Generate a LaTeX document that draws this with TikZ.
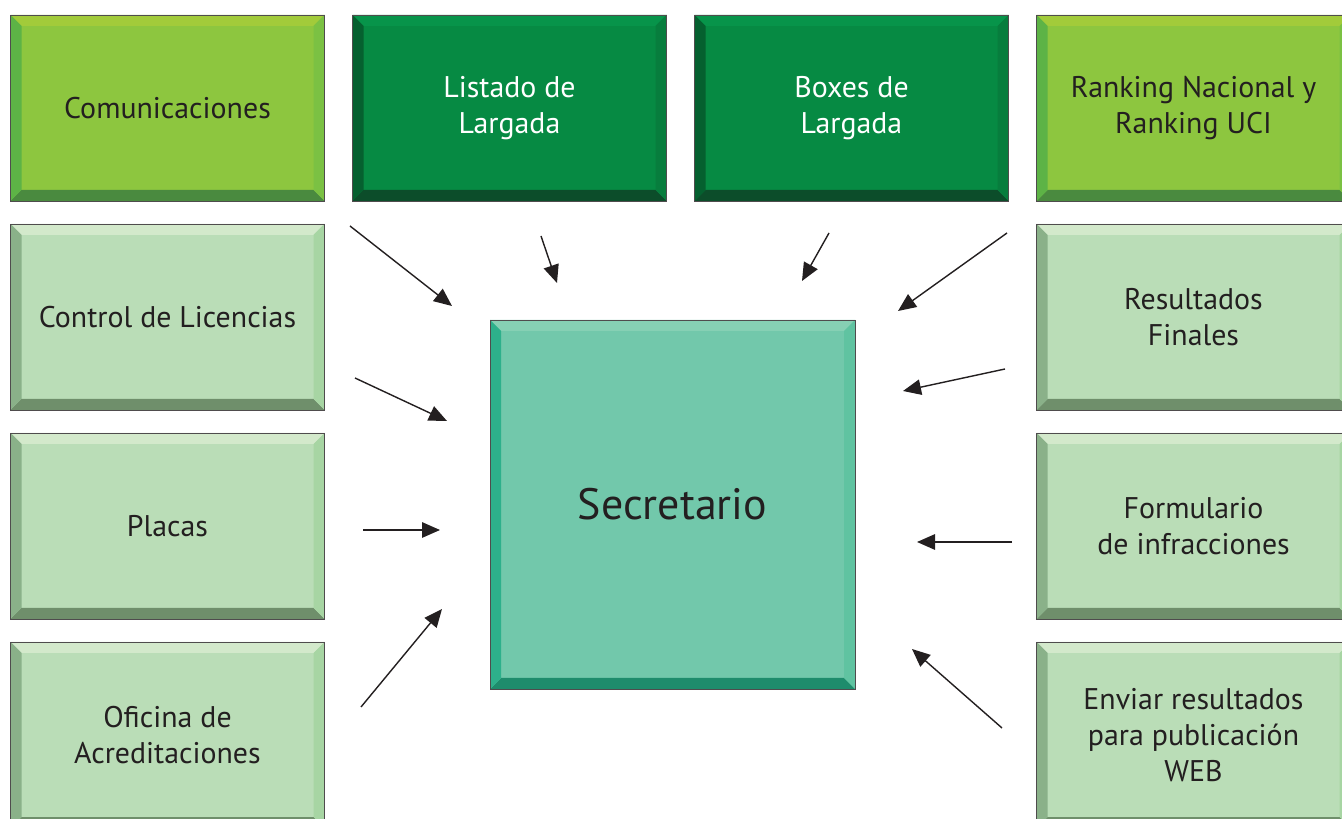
\documentclass[tikz,border=0pt]{standalone}
\usepackage{fontspec}
\setmainfont{PT Sans}
\usetikzlibrary{arrows.meta, positioning}
% palettes: face, top, left, right, bottom
\definecolor{limeface}{HTML}{8DC63F}\definecolor{limetop}{HTML}{A2CB3A}
\definecolor{limelft}{HTML}{5DB346}\definecolor{limergt}{HTML}{7BC143}\definecolor{limebot}{HTML}{4A8A3F}
\definecolor{darkface}{HTML}{068A43}\definecolor{darktop}{HTML}{07944A}
\definecolor{darklft}{HTML}{05602F}\definecolor{darkrgt}{HTML}{077D3D}\definecolor{darkbot}{HTML}{0C4D2A}
\definecolor{paleface}{HTML}{BADDB7}\definecolor{paletop}{HTML}{D3E9CB}
\definecolor{palelft}{HTML}{8AB189}\definecolor{palergt}{HTML}{A7D5A3}\definecolor{palebot}{HTML}{6F8F6B}
\definecolor{hubface}{HTML}{72C8AB}\definecolor{hubtop}{HTML}{86D0B4}
\definecolor{hublft}{HTML}{2DB08B}\definecolor{hubrgt}{HTML}{60C3A1}\definecolor{hubbot}{HTML}{1E8C6C}
\definecolor{inkgray}{HTML}{231F20}
\tikzstyle{task_box} = [rectangle, outer sep=0pt, minimum width=6.28cm, minimum height=3.72cm, align=center, draw=inkgray!80, line width=0.5pt, font=\fontsize{17}{20.5}\selectfont, text=inkgray]
\tikzstyle{lime_box} = [task_box, fill=limeface]
\tikzstyle{dark_box} = [task_box, fill=darkface, text=white]
\tikzstyle{pale_box} = [task_box, fill=paleface]
\tikzstyle{hub_box} = [task_box, fill=hubface, minimum width=7.3cm, minimum height=7.38cm, font=\fontsize{25}{30}\selectfont]
\tikzstyle{feed_arrow} = [line width=0.8pt, draw=inkgray, -{Triangle[length=3.6mm, width=3.1mm]}]
\def\bvw{0.22cm}
\newcommand{\bevel}[2]{%
  \fill[#2top] (#1.north west) -- (#1.north east) -- ([shift={(-\bvw,-\bvw)}]#1.north east) -- ([shift={(\bvw,-\bvw)}]#1.north west) -- cycle;
  \fill[#2bot] (#1.south west) -- (#1.south east) -- ([shift={(-\bvw,\bvw)}]#1.south east) -- ([shift={(\bvw,\bvw)}]#1.south west) -- cycle;
  \fill[#2lft] (#1.north west) -- ([shift={(\bvw,-\bvw)}]#1.north west) -- ([shift={(\bvw,\bvw)}]#1.south west) -- (#1.south west) -- cycle;
  \fill[#2rgt] (#1.north east) -- ([shift={(-\bvw,-\bvw)}]#1.north east) -- ([shift={(-\bvw,\bvw)}]#1.south east) -- (#1.south east) -- cycle;
  \draw[draw=inkgray!80, line width=0.5pt] (#1.north west) rectangle (#1.south east);
}
\begin{document}
\begin{tikzpicture}
    \useasboundingbox (0,0) rectangle (26.84,-16.38);
    \clip (0,0) rectangle (26.84,-16.38);
    % top row
    \node (com) [lime_box] at (3.35,-2.16) {Comunicaciones};
    \node (lst) [dark_box, right=0.56cm of com] {Listado de\\Largada};
    \node (box) [dark_box, right=0.56cm of lst] {Boxes de\\Largada};
    \node (rank) [lime_box, right=0.56cm of box] {Ranking Nacional y\\Ranking UCI};
    % left column
    \node (lic) [pale_box, below=0.46cm of com] {Control de Licencias};
    \node (pla) [pale_box, below=0.46cm of lic] {Placas};
    \node (ofi) [pale_box, below=0.46cm of pla] {Oficina de\\Acreditaciones};
    % right column
    \node (res) [pale_box, below=0.46cm of rank] {Resultados\\Finales};
    \node (frm) [pale_box, below=0.46cm of res] {Formulario\\de infracciones};
    \node (web) [pale_box, below=0.46cm of frm] {Enviar resultados\\para publicación\\WEB};
    % centre
    \node (sec) [hub_box] at (13.45,-10.09) {Secretario};

    \foreach \n/\p in {com/lime, lst/dark, box/dark, rank/lime, lic/pale, pla/pale, ofi/pale, res/pale, frm/pale, web/pale, sec/hub}
        \bevel{\n}{\p};

    % arrow ends
    \coordinate (a1) at (7.00,-4.52);  \coordinate (b1) at (9.04,-6.12);
    \coordinate (a2) at (10.82,-4.72); \coordinate (b2) at (11.14,-5.66);
    \coordinate (a3) at (16.58,-4.66); \coordinate (b3) at (16.04,-5.62);
    \coordinate (a4) at (20.14,-4.66); \coordinate (b4) at (17.96,-6.22);
    \coordinate (a5) at (7.10,-7.56);  \coordinate (b5) at (8.94,-8.42);
    \coordinate (a6) at (20.10,-7.38); \coordinate (b6) at (18.06,-7.82);
    \coordinate (a7) at (7.26,-10.60); \coordinate (b7) at (8.80,-10.60);
    \coordinate (a8) at (20.24,-10.84); \coordinate (b8) at (18.34,-10.84);
    \coordinate (a9) at (7.22,-14.14); \coordinate (b9) at (8.84,-12.18);
    \coordinate (a10) at (20.04,-14.56); \coordinate (b10) at (18.24,-12.98);

    \foreach \i in {1,...,10}
        \draw [feed_arrow] (a\i) -- (b\i);
\end{tikzpicture}
\end{document}
